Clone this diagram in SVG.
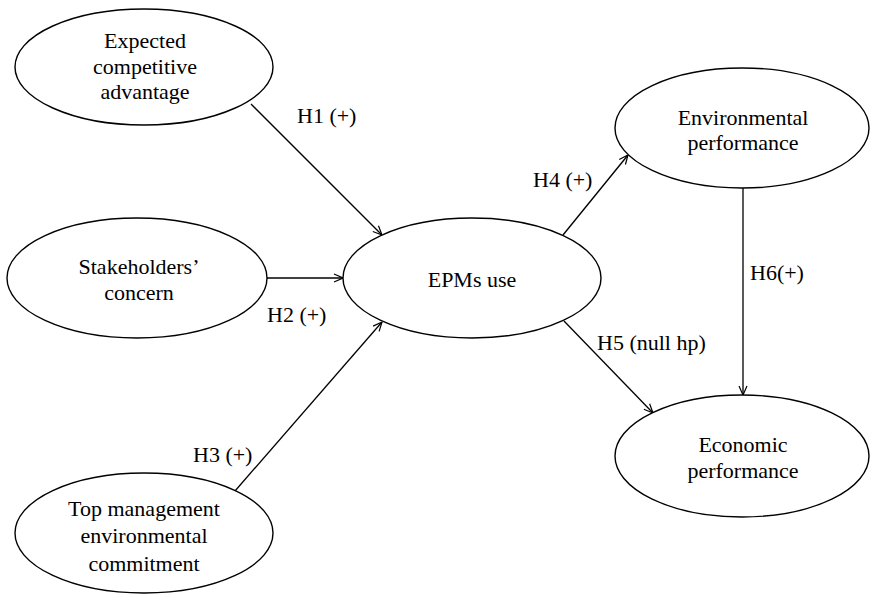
<svg xmlns="http://www.w3.org/2000/svg" width="870" height="594" viewBox="0 0 870 594">
<defs>
<marker id="arr" viewBox="0 0 10 10" refX="10" refY="5" markerWidth="10" markerHeight="10" markerUnits="userSpaceOnUse" orient="auto">
<polyline points="1,1 10,5 1,9" fill="none" stroke="#000" stroke-width="1.2"/>
</marker>
<style>
.n ellipse{fill:#fff;stroke:#000;stroke-width:1.4}
text{font-family:"Liberation Serif","Times New Roman",serif;font-size:22px;fill:#000}
.n text{text-anchor:middle}
#connectors line{stroke:#000;stroke-width:1.3;marker-end:url(#arr)}
</style>
</defs>
<rect width="870" height="594" fill="#fff"/>
<g id="connectors">
<line x1="251" y1="104" x2="382" y2="235"/>
<line x1="267" y1="278" x2="343" y2="278"/>
<line x1="235" y1="491" x2="382" y2="322"/>
<line x1="563" y1="235" x2="628" y2="155"/>
<line x1="564" y1="321" x2="653" y2="413"/>
<line x1="743" y1="188" x2="743" y2="395"/>
</g>
<g id="labels">
<text x="297" y="123">H1 (+)</text>
<text x="267" y="322">H2 (+)</text>
<text x="193" y="462">H3 (+)</text>
<text x="533" y="187">H4 (+)</text>
<text x="597" y="350">H5 (null hp)</text>
<text x="750" y="280">H6(+)</text>
</g>
<g id="expected" class="n">
<ellipse cx="144" cy="67" rx="129" ry="58"/>
<text x="145" y="48">Expected</text>
<text x="145" y="74">competitive</text>
<text x="145" y="99">advantage</text>
</g>
<g id="stakeholders" class="n">
<ellipse cx="137" cy="278" rx="130" ry="60"/>
<text x="139" y="274">Stakeholders’</text>
<text x="139" y="300">concern</text>
</g>
<g id="topmgmt" class="n">
<ellipse cx="144" cy="533" rx="129" ry="60"/>
<text x="144" y="516">Top management</text>
<text x="144" y="543">environmental</text>
<text x="144" y="571">commitment</text>
</g>
<g id="epms" class="n">
<ellipse cx="472" cy="278" rx="129" ry="60"/>
<text x="472" y="287">EPMs use</text>
</g>
<g id="envperf" class="n">
<ellipse cx="742" cy="128" rx="127" ry="60"/>
<text x="743" y="125">Environmental</text>
<text x="743" y="150">performance</text>
</g>
<g id="ecoperf" class="n">
<ellipse cx="742" cy="456" rx="127" ry="61"/>
<text x="743" y="452">Economic</text>
<text x="743" y="478">performance</text>
</g>
</svg>
